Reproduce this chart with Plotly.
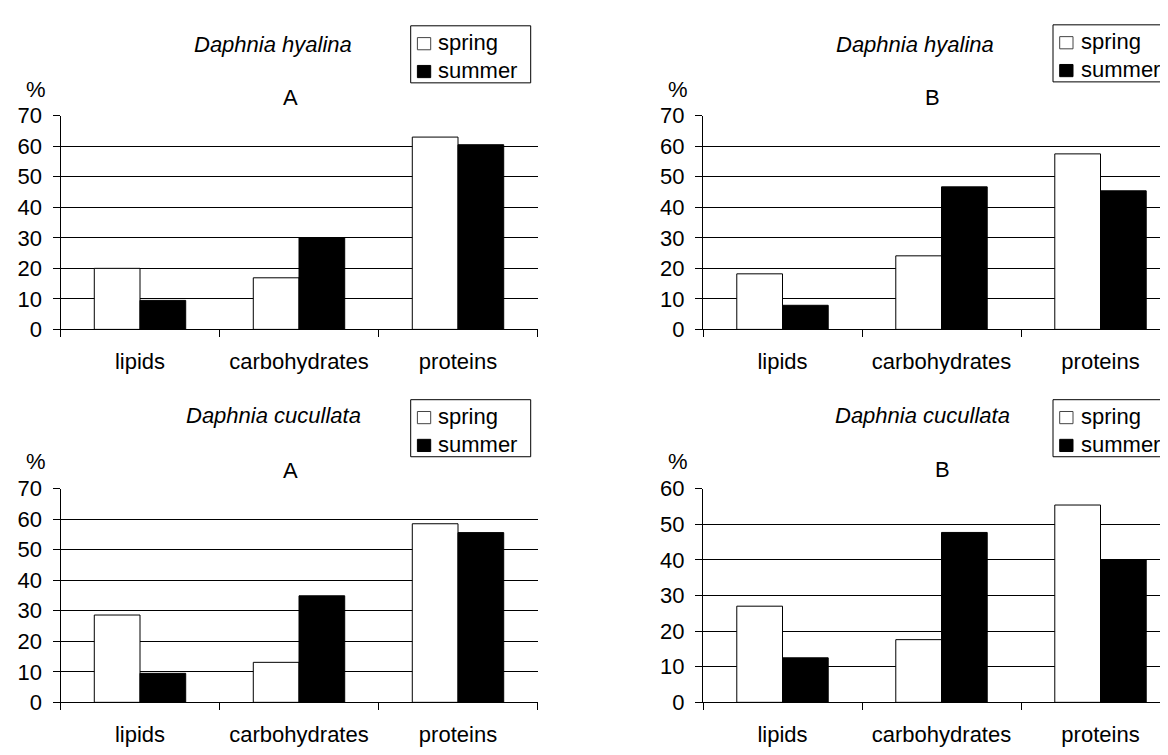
import plotly.graph_objects as go

W, H = 1168, 755

categories = ["lipids", "carbohydrates", "proteins"]
series_names = ["spring", "summer"]

hyalina_A_spring = [20.0, 16.9, 63.0]
hyalina_A_summer = [9.5, 30.1, 60.5]
hyalina_B_spring = [18.2, 24.1, 57.5]
hyalina_B_summer = [7.9, 46.7, 45.4]
cucullata_A_spring = [28.6, 13.1, 58.5]
cucullata_A_summer = [9.5, 34.9, 55.6]
cucullata_B_spring = [27.0, 17.6, 55.4]
cucullata_B_summer = [12.5, 47.7, 40.0]

species_titles = ["Daphnia hyalina", "Daphnia hyalina", "Daphnia cucullata", "Daphnia cucullata"]
panel_letters = ["A", "B", "A", "B"]
y_max = [70, 70, 70, 60]

FONT = "Liberation Sans, Arial, sans-serif"
FS = 22


def px(x):
    return x / W


def py(y):
    return 1 - y / H


# panel geometry in pixels: (x_left, x_right_of_axis, y_top, y_bottom)
panels = [
    dict(xl=52.5, xr=529.5, yt=99.0, yb=320.0, rng=[-0.5, 2.5]),
    dict(xl=695.0, xr=1168.0, yt=99.0, yb=320.0, rng=[-0.5, 2.5 - 4 / 159]),
    dict(xl=52.5, xr=529.5, yt=484.7, yb=705.7, rng=[-0.5, 2.5]),
    dict(xl=695.0, xr=1168.0, yt=484.7, yb=705.7, rng=[-0.5, 2.5 - 4 / 159]),
]

data = [
    (hyalina_A_spring, hyalina_A_summer),
    (hyalina_B_spring, hyalina_B_summer),
    (cucullata_A_spring, cucullata_A_summer),
    (cucullata_B_spring, cucullata_B_summer),
]

fig = go.Figure()
layout = dict(
    width=W, height=H,
    margin=dict(l=0, r=0, t=0, b=0),
    paper_bgcolor="white", plot_bgcolor="white",
    barmode="group", bargap=0.425, bargroupgap=0,
    showlegend=False,
    font=dict(family=FONT, size=FS, color="black"),
)

for i, (p, (spr, smr)) in enumerate(zip(panels, data)):
    n = "" if i == 0 else str(i + 1)
    xa, ya = "x" + n, "y" + n
    fig.add_trace(go.Bar(x=categories, y=spr, name=series_names[0], xaxis=xa, yaxis=ya,
                         marker=dict(color="white", line=dict(color="black", width=1)),
                         offsetgroup="a"))
    fig.add_trace(go.Bar(x=categories, y=smr, name=series_names[1], xaxis=xa, yaxis=ya,
                         marker=dict(color="black", line=dict(color="black", width=1)),
                         offsetgroup="b"))
    layout["xaxis" + n] = dict(
        domain=[px(p["xl"]), px(p["xr"])], anchor=ya, type="category",
        range=p["rng"], showline=True, linecolor="black", linewidth=1,
        ticks="outside", tickson="boundaries", ticklen=7, tickcolor="black",
        showgrid=False, ticklabelstandoff=12,
        tickfont=dict(family=FONT, size=FS, color="black"),
    )
    layout["yaxis" + n] = dict(
        domain=[py(p["yb"]), py(p["yt"])], anchor=xa, range=[0, y_max[i]],
        dtick=10, showline=True, linecolor="black", linewidth=1,
        ticks="outside", ticklen=7, tickcolor="black",
        showgrid=True, gridcolor="black", gridwidth=1, zeroline=False,
        ticklabelstandoff=6,
        tickfont=dict(family=FONT, size=FS, color="black"),
    )

# text annotations: species titles, panel letters, % labels
title_pos = [(265, 25), (907, 25), (265, 409), (914, 409)]
letter_pos = [(282, 80), (924, 80), (282, 466), (934, 465)]
pct_pos = [(27.6, 72), (670, 72), (27.6, 457), (670, 457)]
annotations = []
for i in range(4):
    annotations.append(dict(x=px(title_pos[i][0]), y=py(title_pos[i][1]), xref="paper", yref="paper",
                            text="<i>" + species_titles[i] + "</i>", showarrow=False,
                            xanchor="center", yanchor="middle", font=dict(family=FONT, size=FS)))
    annotations.append(dict(x=px(letter_pos[i][0]), y=py(letter_pos[i][1]), xref="paper", yref="paper",
                            text=panel_letters[i], showarrow=False,
                            xanchor="center", yanchor="middle", font=dict(family=FONT, size=FS)))
    annotations.append(dict(x=px(pct_pos[i][0]), y=py(pct_pos[i][1]), xref="paper", yref="paper",
                            text="%", showarrow=False,
                            xanchor="center", yanchor="middle", font=dict(family=FONT, size=FS)))

# legends (one boxed legend per panel)
legend_boxes = [(402.7, 6.0), (1045.0, 5.0), (402.7, 392.7), (1045.0, 392.7)]
shapes = []
for (lx, ly) in legend_boxes:
    shapes.append(dict(type="rect", xref="paper", yref="paper",
                       x0=px(lx), x1=px(lx + 120), y0=py(ly + 59), y1=py(ly),
                       line=dict(color="black", width=1), fillcolor="white", layer="above"))
    for k, (name, fill) in enumerate(zip(series_names, ["white", "black"])):
        cy = ly + 18.5 + k * 28.8
        shapes.append(dict(type="rect", xref="paper", yref="paper",
                           x0=px(lx + 6.7), x1=px(lx + 20), y0=py(cy + 6.3), y1=py(cy - 6.3),
                           line=dict(color="black" if k else "#444", width=1), fillcolor=fill, layer="above"))
        annotations.append(dict(x=px(lx + 25.5), y=py(cy - 1), xref="paper", yref="paper",
                                text=name, showarrow=False, xanchor="left", yanchor="middle",
                                font=dict(family=FONT, size=FS)))

layout["annotations"] = annotations
layout["shapes"] = shapes
fig.update_layout(**layout)

fig.write_html("out.html")
